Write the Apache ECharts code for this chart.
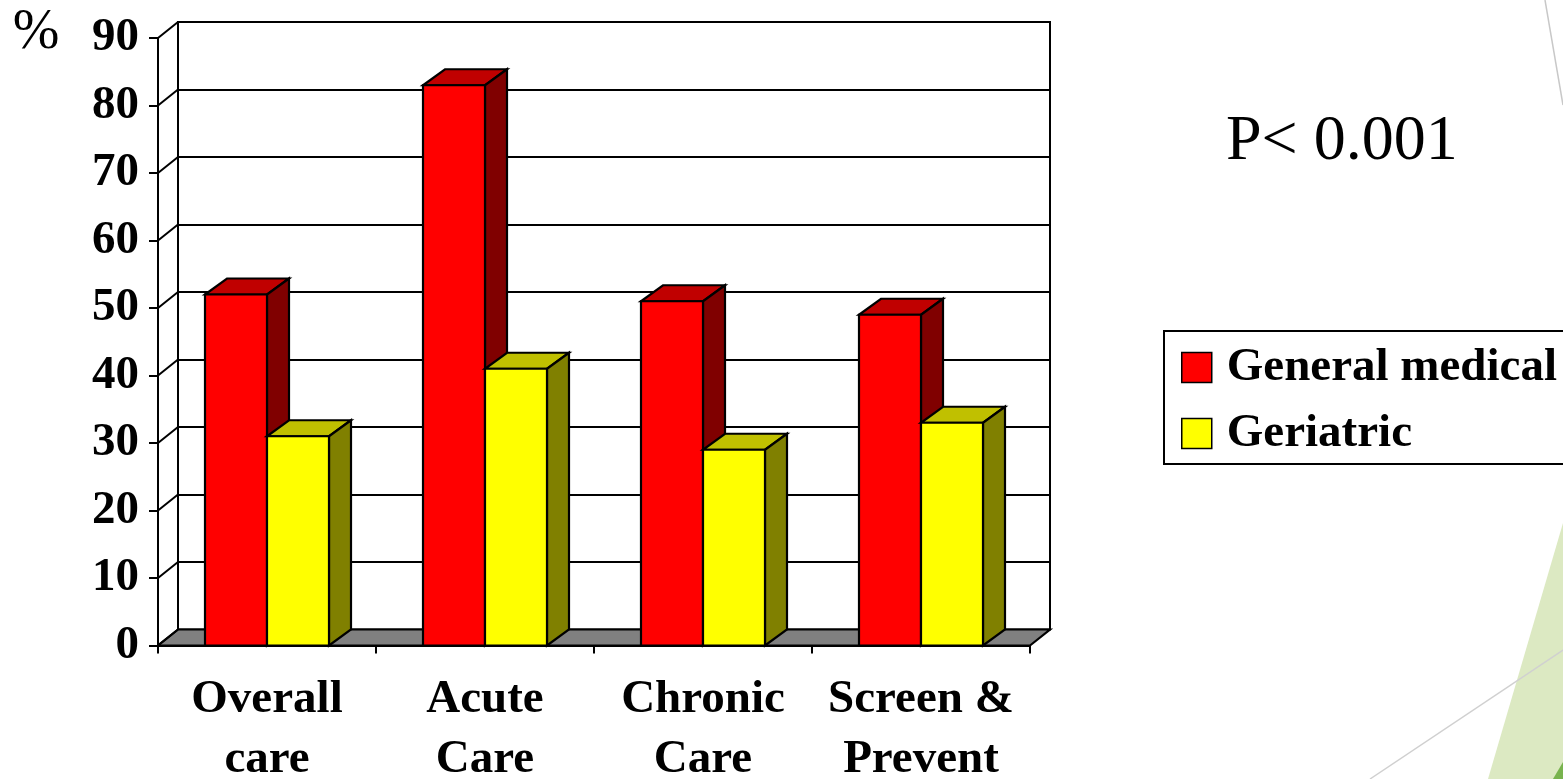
<!DOCTYPE html>
<html>
<head>
<meta charset="utf-8">
<title>Care quality by service</title>
<script src="https://cdn.jsdelivr.net/npm/echarts@6/dist/echarts.min.js"></script>
<style>
  html, body { margin: 0; padding: 0; background: #fff; }
  #chart { width: 1563px; height: 779px; }
</style>
</head>
<body>
<div id="chart"></div>
<script>
// ---- data ----
const categories = ['Overall\ncare', 'Acute\nCare', 'Chronic\nCare', 'Screen &\nPrevent'];
const seriesNames = ['General medical', 'Geriatric'];
const generalMedical = [52, 83, 51, 49];
const geriatric = [31, 41, 29, 33];
const yTicks = [0, 10, 20, 30, 40, 50, 60, 70, 80, 90];
const pValueText = 'P< 0.001';
const unitText = '%';

// ---- styling ----
const SERIF = '"Liberation Serif", "Times New Roman", serif';
const BOLD_SIZE = 47;
const WALL_DX = 20, WALL_DY = -16;   // depth offset of the back wall
const BAR_DX = 22, BAR_DY = -16;     // depth offset of each column
const BAR_RATIO = 62 / 218;          // column width as share of a category band
const faces = [
  { front: '#FF0000', top: '#C00000', side: '#800000' },
  { front: '#FFFF00', top: '#C0C000', side: '#808000' }
];
const EDGE = { stroke: '#000', lineWidth: 2.2, lineJoin: 'miter' };

const chart = echarts.init(document.getElementById('chart'), null, { renderer: 'canvas' });

function columnRenderer(idx) {
  const c = faces[idx];
  return function (params, api) {
    const cat = api.value(0);
    const val = api.value(1);
    const base = api.coord([cat, 0]);
    const tip = api.coord([cat, val]);
    const band = api.size([1, 0])[0];
    const w = band * BAR_RATIO;
    const x0 = idx === 0 ? base[0] - w : base[0];
    const x1 = x0 + w;
    const yb = base[1], yt = tip[1];
    return {
      type: 'group',
      children: [
        { type: 'polygon', shape: { points: [[x0, yt], [x1, yt], [x1 + BAR_DX, yt + BAR_DY], [x0 + BAR_DX, yt + BAR_DY]] },
          style: Object.assign({ fill: c.top }, EDGE) },
        { type: 'polygon', shape: { points: [[x1, yb], [x1, yt], [x1 + BAR_DX, yt + BAR_DY], [x1 + BAR_DX, yb + BAR_DY]] },
          style: Object.assign({ fill: c.side }, EDGE) },
        { type: 'rect', shape: { x: x0, y: yt, width: w, height: yb - yt },
          style: Object.assign({ fill: c.front }, EDGE) }
      ]
    };
  };
}

// grey floor under the columns
function floorRenderer(params, api) {
  const cs = params.coordSys;
  const y0 = api.coord([0, 0])[1];
  const xl = cs.x, xr = cs.x + cs.width;
  return {
    type: 'polygon',
    shape: { points: [[xl, y0], [xr, y0], [xr + WALL_DX, y0 + WALL_DY], [xl + WALL_DX, y0 + WALL_DY]] },
    style: Object.assign({ fill: '#808080' }, EDGE)
  };
}

// slanted lines on the left side wall, one per tick
function sideWallRenderer(params, api) {
  const cs = params.coordSys;
  const y = api.coord([0, api.value(0)])[1];
  return {
    type: 'line',
    shape: { x1: cs.x, y1: y, x2: cs.x + WALL_DX, y2: y + WALL_DY },
    style: { stroke: '#000', lineWidth: 2 }
  };
}

const gridFront = { left: 158, top: 38, width: 872, height: 607.5, outerBoundsMode: 'none', containLabel: false };
const gridBack = { left: 158 + WALL_DX, top: 38 + WALL_DY, width: 872, height: 607.5,
  outerBoundsMode: 'none', containLabel: false,
  show: true, backgroundColor: '#fff', borderColor: '#000', borderWidth: 2 };

const option = {
  animation: false,
  backgroundColor: '#fff',
  grid: [gridBack, gridFront],
  xAxis: [
    { gridIndex: 0, type: 'category', data: categories, show: false },
    {
      gridIndex: 1, type: 'category', data: categories,
      axisLine: { lineStyle: { color: '#000', width: 2 } },
      axisTick: { show: true, alignWithLabel: false, length: 8, lineStyle: { color: '#000', width: 2 } },
      axisLabel: { margin: 24, color: '#000', fontFamily: SERIF, fontWeight: 'bold', fontSize: BOLD_SIZE, lineHeight: 60, interval: 0 },
      splitLine: { show: false }
    }
  ],
  yAxis: [
    {
      gridIndex: 0, type: 'value', min: 0, max: 90, interval: 10,
      axisLine: { show: false }, axisTick: { show: false }, axisLabel: { show: false },
      splitLine: { show: true, lineStyle: { color: '#000', width: 2 } }
    },
    {
      gridIndex: 1, type: 'value', min: 0, max: 90, interval: 10,
      axisLine: { show: true, lineStyle: { color: '#000', width: 2 } },
      axisTick: { show: true, length: 9, lineStyle: { color: '#000', width: 2 } },
      axisLabel: { margin: 19, color: '#000', fontFamily: SERIF, fontWeight: 'bold', fontSize: BOLD_SIZE },
      splitLine: { show: false }
    }
  ],
  legend: {
    orient: 'vertical',
    left: 1164, top: 331,
    padding: [13, 40, 7, 17],
    itemGap: 19,
    itemWidth: 30, itemHeight: 30,
    backgroundColor: '#fff',
    borderColor: '#000', borderWidth: 2,
    itemStyle: { borderColor: '#000', borderWidth: 1.5 },
    textStyle: { color: '#000', fontFamily: SERIF, fontWeight: 'bold', fontSize: BOLD_SIZE, lineHeight: 46, padding: [0, 0, 0, 10] },
    data: seriesNames.map(n => ({ name: n, icon: 'rect' }))
  },
  graphic: [
    // slide decoration in the lower right corner
    { type: 'polygon', silent: true, z: -10, shape: { points: [[1563, 523], [1488, 779], [1563, 779]] }, style: { fill: '#DCE9C2' } },
    { type: 'polygon', silent: true, z: -9, shape: { points: [[1563, 762], [1553, 779], [1563, 779]] }, style: { fill: '#78B34E' } },
    { type: 'line', silent: true, z: -8, shape: { x1: 1370, y1: 779, x2: 1563, y2: 650 }, style: { stroke: '#D0D0D0', lineWidth: 1.5 } },
    { type: 'line', silent: true, z: -8, shape: { x1: 1545, y1: 0, x2: 1563, y2: 105 }, style: { stroke: '#C8C8C8', lineWidth: 1.5 } },
    { type: 'text', z: 10, style: { text: unitText, x: 36, y: 33, align: 'center', verticalAlign: 'middle',
        fontFamily: SERIF, fontSize: 56, fill: '#000' } },
    { type: 'text', z: 10, style: { text: pValueText, x: 1226, y: 142, align: 'left', verticalAlign: 'middle',
        fontFamily: SERIF, fontSize: 64, fill: '#000' } }
  ],
  series: [
    {
      name: 'floor', type: 'custom', xAxisIndex: 1, yAxisIndex: 1, z: 1,
      data: [[0]], renderItem: floorRenderer, silent: true, legendHoverLink: false
    },
    {
      name: 'side wall', type: 'custom', xAxisIndex: 1, yAxisIndex: 1, z: 1,
      data: yTicks.map(v => [v]), encode: { y: 0 }, renderItem: sideWallRenderer, silent: true
    },
    {
      name: seriesNames[0], type: 'custom', xAxisIndex: 1, yAxisIndex: 1, z: 3,
      itemStyle: { color: faces[0].front, borderColor: '#000', borderWidth: 1.5 },
      encode: { x: 0, y: 1 },
      data: generalMedical.map((v, i) => [i, v]),
      renderItem: columnRenderer(0)
    },
    {
      name: seriesNames[1], type: 'custom', xAxisIndex: 1, yAxisIndex: 1, z: 3,
      itemStyle: { color: faces[1].front, borderColor: '#000', borderWidth: 1.5 },
      encode: { x: 0, y: 1 },
      data: geriatric.map((v, i) => [i, v]),
      renderItem: columnRenderer(1)
    }
  ]
};

chart.setOption(option);
</script>
</body>
</html>
